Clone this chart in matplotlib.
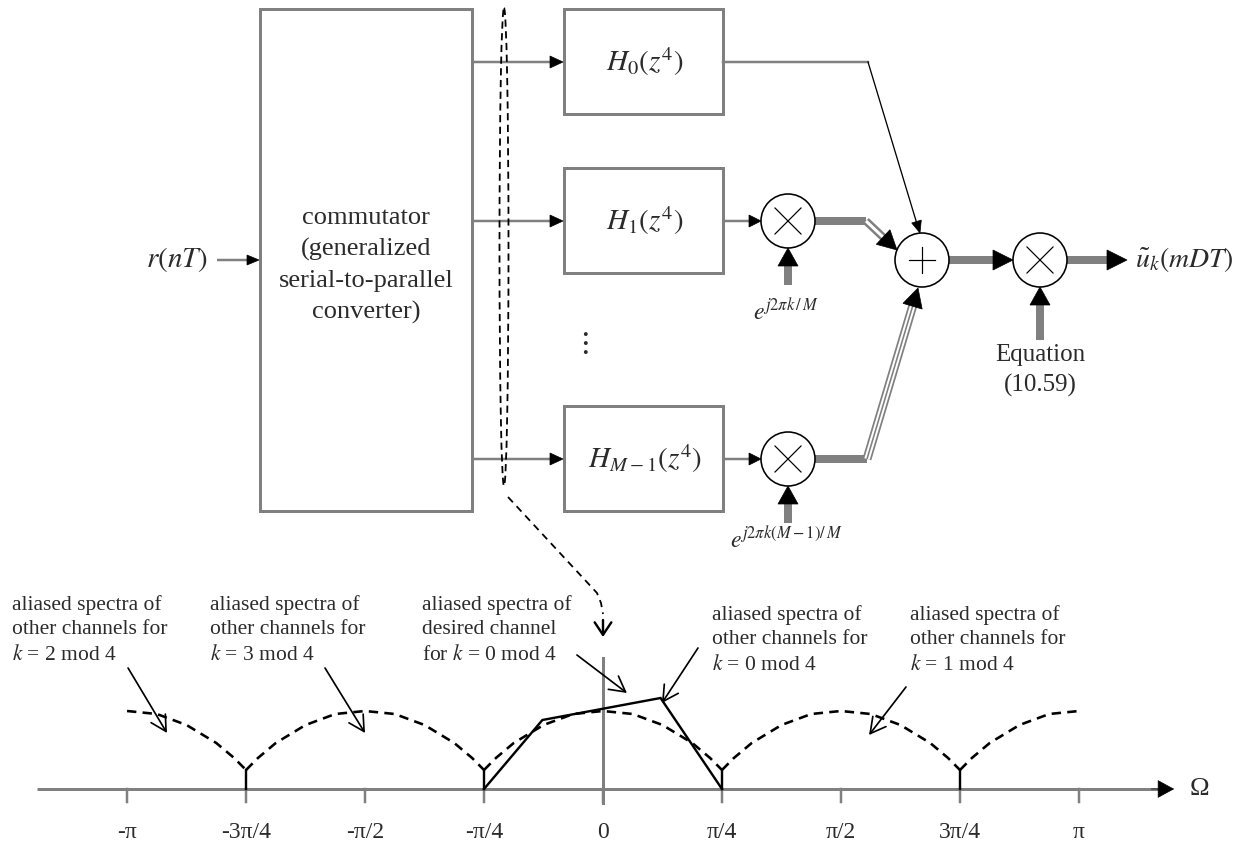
import numpy as np
import matplotlib.pyplot as plt
from matplotlib.patches import Rectangle, Circle, Ellipse, Polygon

plt.rcParams['font.family'] = ['Liberation Serif', 'DejaVu Serif']
plt.rcParams['mathtext.fontset'] = 'stix'

GRAY = '#808080'
TXT = '#2b2b2b'
PX = 0.72  # points per pixel at dpi 100

# ---- data ----
commutator_text = ['commutator', '(generalized', 'serial-to-parallel', 'converter)']
filter_labels = [r'$H_0\left(z^4\right)$', r'$H_1\left(z^4\right)$', r'$H_{M-1}\left(z^4\right)$']
mixer_labels = [r'$e^{j2\pi k\,/\,M}$', r'$e^{j2\pi k\left(M-1\right)/\,M}$']
input_label = r'$r\left(nT\right)$'
output_label = r'$\tilde{u}_k\left(mDT\right)$'
equation_label = ['Equation', '(10.59)']

tick_pos = np.arange(-4, 5) * np.pi / 4
tick_labels = ['-π', '-3π/4', '-π/2', '-π/4', '0', 'π/4', 'π/2', '3π/4', 'π']
arc_centers = np.array([-4, -2, 0, 2, 4]) * np.pi / 4
arc_offset = np.array([-1, -0.9, -0.75, -0.5, -0.25, 0, 0.25, 0.5, 0.75, 0.9, 1]) * np.pi / 4
arc_height = np.array([19, 31, 46, 64, 75, 78, 75, 64, 46, 31, 19])
desired_omega = [-np.pi / 4, -0.40, 0.38, np.pi / 4]
desired_height = [0, 69, 91, 0]

notes = [
    ['aliased spectra of', 'other channels for', r'$k$ = 2 mod 4'],
    ['aliased spectra of', 'other channels for', r'$k$ = 3 mod 4'],
    ['aliased spectra of', 'desired channel', r'for $k$ = 0 mod 4'],
    ['aliased spectra of', 'other channels for', r'$k$ = 0 mod 4'],
    ['aliased spectra of', 'other channels for', r'$k$ = 1 mod 4'],
]
note_xy = [(-3.90, 184), (-2.594, 184), (-1.195, 184), (0.72, 174), (2.026, 174)]
note_tail = [(-3.135, 121), (-1.835, 121), (-0.172, 134), (0.627, 141), (2.00, 102)]
note_tip = [(-2.878, 56), (-1.571, 56), (0.158, 96), (0.389, 86), (1.756, 54)]

fig = plt.figure(figsize=(12.5, 8.48), dpi=100)
ax = fig.add_axes([0, 0, 1, 1])
ax.set_xlim(0, 1250)
ax.set_ylim(848, 0)
ax.axis('off')


def head(tip, frm, length, width, color='k'):
    d = np.subtract(tip, frm, dtype=float)
    d /= np.hypot(*d)
    n = np.array([-d[1], d[0]])
    base = np.asarray(tip, dtype=float) - d * length
    ax.add_patch(Polygon([tip, base + n * width, base - n * width], closed=True,
                         fc=color, ec=color, lw=0.5, zorder=5))


def arrow(pts, lw=3, hl=13, hw=6, color=GRAY):
    pts = np.asarray(pts, dtype=float)
    d = pts[-1] - pts[-2]
    d /= np.hypot(*d)
    stem = pts.copy()
    stem[-1] = pts[-1] - d * hl * 0.8
    ax.plot(stem[:, 0], stem[:, 1], color=color, lw=lw * PX, solid_capstyle='butt',
            solid_joinstyle='miter', zorder=3)
    head(pts[-1], pts[-2], hl, hw)


def lines(a, x, y0, step, texts, **kw):
    for i, t in enumerate(texts):
        a.text(x, y0 + step * i, t, **kw)


def box(x0, y0, x1, y1):
    ax.add_patch(Rectangle((x0, y0), x1 - x0, y1 - y0, fc='none', ec=GRAY, lw=3 * PX, zorder=2))


def mixer(cx, cy, r=27, plus=False):
    ax.add_patch(Circle((cx, cy), r, fc='white', ec='k', lw=1.6 * PX, zorder=4))
    s = 13
    if plus:
        ax.plot([cx - s, cx + s], [cy, cy], color='k', lw=1.2 * PX, zorder=5)
        ax.plot([cx, cx], [cy - s, cy + s], color='k', lw=1.2 * PX, zorder=5)
    else:
        ax.plot([cx - s, cx + s], [cy - s, cy + s], color='k', lw=1.2 * PX, zorder=5)
        ax.plot([cx - s, cx + s], [cy + s, cy - s], color='k', lw=1.2 * PX, zorder=5)


# ---- commutator ----
box(260, 9, 472, 511)
lines(ax, 366, 218, 31.5, commutator_text, ha='center', va='center', fontsize=19, color=TXT)
ax.text(208, 260, input_label, ha='right', va='center', fontsize=21, color=TXT)
arrow([(217, 260), (259, 260)], lw=2.5, hl=12, hw=5)

# ---- polyphase branches ----
branch_y = [62, 221, 459]
box_top = [9, 168, 406]
for y, top, lab in zip(branch_y, box_top, filter_labels):
    arrow([(472, y), (563, y)], lw=2.5, hl=13, hw=6)
    box(564, top, 723, top + 105)
    ax.text(645, y, lab, ha='center', va='center', fontsize=21, color=TXT)

ax.text(583, 343, r'$\vdots$', ha='center', va='center', fontsize=22, color=TXT)

# mixers with exponential inputs
for y, lab, ly in zip(branch_y[1:], mixer_labels, [312, 540]):
    arrow([(723, y), (761, y)], lw=2.5, hl=12, hw=6)
    mixer(788, y)
    arrow([(788, y + 64), (788, y + 27)], lw=8, hl=18, hw=10)
    ax.text(786, ly, lab, ha='center', va='center', fontsize=17, color=TXT)

# summer and final mixer
mixer(922, 260, plus=True)
mixer(1040, 260)

# H0 branch straight into summer
ax.plot([723, 868], [62, 62], color=GRAY, lw=2.5 * PX, zorder=3)
ax.plot([868, 917], [62, 224], color='k', lw=1.3 * PX, zorder=3)
head((920, 233), (868, 62), 12, 5)

# branch 1: thick line then double line
ax.plot([815, 866], [221, 221], color=GRAY, lw=8 * PX, solid_capstyle='butt', zorder=3)
d1 = np.array([(866, 221), (884, 238)])
ax.plot(d1[:, 0], d1[:, 1], color=GRAY, lw=8 * PX, solid_capstyle='butt', zorder=3)
ax.plot(d1[:, 0], d1[:, 1], color='white', lw=3 * PX, solid_capstyle='butt', zorder=3)
head((897, 250), (866, 221), 19, 10)

# branch M-1: thick line then triple line
ax.plot([815, 867], [459, 459], color=GRAY, lw=8 * PX, solid_capstyle='butt', zorder=3)
d2 = np.array([(867, 459), (913, 305)])
ax.plot(d2[:, 0], d2[:, 1], color=GRAY, lw=9 * PX, solid_capstyle='butt', zorder=3)
ax.plot(d2[:, 0], d2[:, 1], color='white', lw=5.5 * PX, solid_capstyle='butt', zorder=3)
ax.plot(d2[:, 0], d2[:, 1], color=GRAY, lw=1.6 * PX, solid_capstyle='butt', zorder=3)
head((918, 288), (867, 459), 19, 10)

arrow([(949, 260), (1013, 260)], lw=8, hl=20, hw=10)
arrow([(1067, 260), (1127, 260)], lw=8, hl=20, hw=10)
arrow([(1040, 340), (1040, 287)], lw=8, hl=18, hw=10)
ax.text(1135, 260, output_label, ha='left', va='center', fontsize=20, color=TXT)
lines(ax, 1040, 355, 30, equation_label, ha='center', va='center', fontsize=18, color=TXT)

# dashed probe loop and pointer to spectrum
ax.add_patch(Ellipse((504, 247), 9, 478, fc='none', ec='k', lw=1.8 * PX,
                     ls=(0, (4, 2.5)), zorder=4))
ax.plot([508, 597, 601, 603], [497, 593, 603, 614], color='k', lw=1.8 * PX,
        ls=(0, (4, 3)), zorder=4)
ax.annotate('', xy=(603, 637), xytext=(603, 620),
            arrowprops=dict(arrowstyle='->,head_length=0.45,head_width=0.3', lw=2.4 * PX,
                            color='k', mutation_scale=20, shrinkA=0, shrinkB=0))

# ---- spectrum ----
ppr = 151.5  # pixels per radian
ax2 = fig.add_axes([0, 0, 1, 288 / 848])
ax2.set_xlim(-603 / ppr, 647 / ppr)
ax2.set_ylim(-59, 229)
ax2.axis('off')

ax2.plot([-3.736, 3.70], [0, 0], color=GRAY, lw=3 * PX, solid_capstyle='butt')
ax2.annotate('', xy=(3.77, 0), xytext=(3.62, 0),
             arrowprops=dict(arrowstyle='-|>,head_length=0.55,head_width=0.3', lw=0.5,
                             color='k', mutation_scale=20, shrinkA=0, shrinkB=0))
ax2.text(3.94, 0, 'Ω', ha='center', va='center', fontsize=19, color=TXT)

for i, (p, lab) in enumerate(zip(tick_pos, tick_labels)):
    ax2.plot([p, p], [-13, 0], color=GRAY, lw=2.5 * PX)
    if i % 2 == 1:
        ax2.plot([p, p], [0, 19], color='k', lw=2.4 * PX)
    ax2.text(p, -43, lab, ha='center', va='center', fontsize=17, color=TXT)

ax2.plot([0, 0], [-14, 131], color=GRAY, lw=3 * PX)

for c in arc_centers:
    om = c + arc_offset
    keep = np.abs(om) <= np.pi + 1e-9
    ax2.plot(om[keep], arc_height[keep], color='k', lw=2.6 * PX, ls=(0, (3.6, 2.4)))

ax2.plot(desired_omega, desired_height, color='k', lw=2.4 * PX, solid_joinstyle='miter')

for txt, xy, tail, tip in zip(notes, note_xy, note_tail, note_tip):
    lines(ax2, xy[0], xy[1], -25, txt, ha='left', va='center', fontsize=15.5, color=TXT)
    ax2.annotate('', xy=tip, xytext=tail,
                 arrowprops=dict(arrowstyle='->,head_length=0.55,head_width=0.3', lw=1.7 * PX,
                                 color='k', mutation_scale=20, shrinkA=0, shrinkB=0))

fig.savefig('out.png', dpi=100)
